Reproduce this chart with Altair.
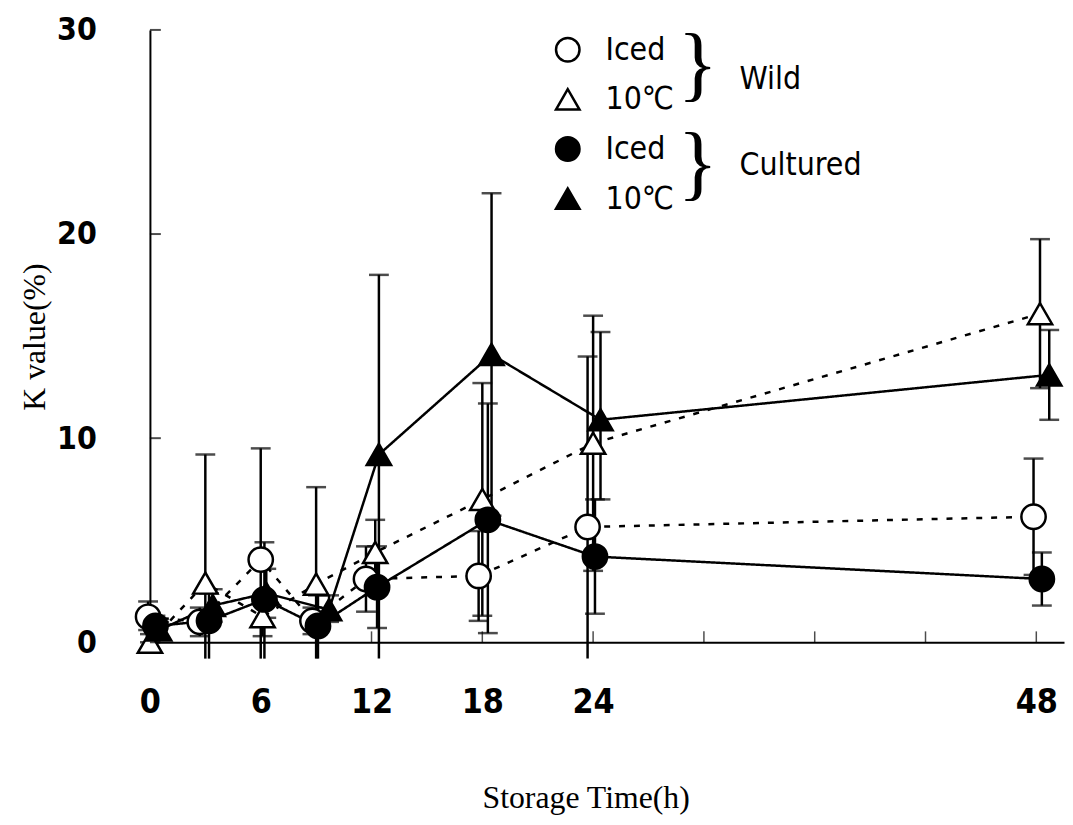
import altair as alt
import pandas as pd

# ---- data ----
series_names = ["Wild|Iced", "Wild|10℃", "Cultured|Iced", "Cultured|10℃"]
series_groups = ["Wild", "Wild", "Cultured", "Cultured"]

t_wild_iced = [-0.1, 2.7, 6.0, 8.8, 11.7, 17.8, 23.7, 47.85]
k_wild_iced = [1.25, 1.0, 4.05, 1.05, 3.1, 3.25, 5.65, 6.15]
lo_wild_iced = [0.6, 0.3, -0.8, 0.4, 1.5, 1.05, -0.8, 3.3]
hi_wild_iced = [2.0, 1.7, 9.5, 1.7, 4.7, 5.45, 14.0, 9.0]

t_wild_10 = [0.0, 3.0, 6.1, 9.0, 12.2, 18.0, 24.0, 48.2]
k_wild_10 = [0.0, 2.9, 1.25, 2.85, 4.4, 7.0, 9.75, 16.1]
lo_wild_10 = [0.0, -0.8, 0.3, -0.8, 2.8, 1.3, 3.5, 12.45]
hi_wild_10 = [0.4, 9.2, 2.2, 7.6, 6.0, 12.7, 16.0, 19.75]

t_cult_iced = [0.3, 3.2, 6.2, 9.1, 12.3, 18.3, 24.1, 48.3]
k_cult_iced = [0.8, 1.05, 2.1, 0.8, 2.7, 6.0, 4.2, 3.1]
lo_cult_iced = [0.3, -0.8, -0.8, -0.8, 0.7, 0.45, 1.4, 1.8]
hi_cult_iced = [1.3, 2.4, 4.9, 2.3, 4.7, 11.7, 7.0, 4.4]

t_cult_10 = [0.5, 3.4, 6.3, 9.7, 12.4, 18.5, 24.4, 48.7]
k_cult_10 = [0.6, 1.8, 2.4, 1.6, 9.2, 14.1, 10.9, 13.1]
lo_cult_10 = [0.2, 1.0, 1.2, 1.0, -0.8, 6.2, 7.0, 10.9]
hi_cult_10 = [1.0, 2.6, 3.6, 2.3, 18.0, 22.0, 15.2, 15.3]

x_label_values = [0, 6, 12, 18, 24, 48]
x_tick_values = [6, 12, 18, 24, 30, 36, 42, 48]
y_tick_values = [0, 10, 20, 30]
group_labels = ["Wild", "Cultured"]

# ---- build table ----
rows = []
for name, grp, ts, ks, los, his in [
    (series_names[0], series_groups[0], t_wild_iced, k_wild_iced, lo_wild_iced, hi_wild_iced),
    (series_names[1], series_groups[1], t_wild_10, k_wild_10, lo_wild_10, hi_wild_10),
    (series_names[2], series_groups[2], t_cult_iced, k_cult_iced, lo_cult_iced, hi_cult_iced),
    (series_names[3], series_groups[3], t_cult_10, k_cult_10, lo_cult_10, hi_cult_10),
]:
    for t, k, lo, hi in zip(ts, ks, los, his):
        rows.append(dict(series=name, group=grp, t=t, k=k, lo=lo, hi=hi))
df = pd.DataFrame(rows)

NUM_FONT = "Liberation Sans Narrow, DejaVu Sans Condensed, Arial Narrow, Liberation Sans, sans-serif"
SERIF = "Liberation Serif"

x_scale = alt.Scale(domain=[0, 49.5], nice=False, zero=False)
y_scale = alt.Scale(domain=[0, 30], nice=False, zero=False)

x_axis = alt.Axis(
    values=x_label_values, ticks=False, grid=False, domainColor="black", domainWidth=2,
    labelFont=NUM_FONT, labelFontSize=34, labelFontWeight="bold", labelColor="black",
    labelPadding=44, labelFlush=False,
    title="Storage Time(h)", titleFont=SERIF, titleFontSize=32, titleFontWeight="normal",
    titleColor="black", titleX=439, titleY=156, titleAlign="center", titleBaseline="middle",
)
y_axis = alt.Axis(
    values=y_tick_values, ticks=False, grid=False, domainColor="black", domainWidth=2,
    labelFont=NUM_FONT, labelFontSize=32, labelFontWeight="bold", labelColor="black",
    labelPadding=54,
    title="K value(%)", titleFont=SERIF, titleFontSize=32, titleFontWeight="normal",
    titleColor="black", titleX=-116, titleY=309, titleAngle=-90, titleAlign="center",
    titleBaseline="middle",
)

base = alt.Chart(df)

lines = base.mark_line(strokeWidth=2.5, color="black", clip=False).encode(
    x=alt.X("t:Q", scale=x_scale, axis=x_axis),
    y=alt.Y("k:Q", scale=y_scale, axis=y_axis),
    detail="series:N",
    strokeDash=alt.StrokeDash(
        "group:N",
        scale=alt.Scale(domain=["Wild", "Cultured"], range=[[6, 9], [1, 0]]),
        legend=None,
    ),
    order="t:Q",
)

err = base.mark_rule(strokeWidth=2.5, color="black", clip=False).encode(
    x="t:Q", y="lo:Q", y2="hi:Q"
)
cap_hi = base.mark_tick(orient="horizontal", size=20, thickness=2.5, color="black").encode(
    x="t:Q", y="hi:Q"
)
cap_lo = base.transform_filter("datum.lo >= 0").mark_tick(
    orient="horizontal", size=20, thickness=2.5, color="black"
).encode(x="t:Q", y="lo:Q")

legend = alt.Legend(
    title=None, orient="none", legendX=405, legendY=4, padding=0,
    labelExpr="split(datum.label, '|')[1]",
    labelFont=NUM_FONT, labelFontSize=32, labelColor="black", labelOffset=22,
    symbolSize=560, symbolStrokeWidth=2.5,
    rowPadding=17,
)

points = base.mark_point(filled=True, size=600, strokeWidth=2.5, opacity=1).encode(
    x="t:Q",
    y="k:Q",
    shape=alt.Shape(
        "series:N",
        scale=alt.Scale(domain=series_names, range=["circle", "triangle-up", "circle", "triangle-up"]),
        legend=legend,
        sort=series_names,
    ),
    fill=alt.Fill(
        "series:N",
        scale=alt.Scale(domain=series_names, range=["white", "white", "black", "black"]),
        legend=legend,
        sort=series_names,
    ),
    stroke=alt.Stroke(
        "series:N",
        scale=alt.Scale(domain=series_names, range=["black", "black", "black", "black"]),
        legend=legend,
        sort=series_names,
    ),
)

# inward axis ticks
ytick_df = pd.DataFrame({"yv": y_tick_values, "x0": [0] * len(y_tick_values)})
yticks = alt.Chart(ytick_df).mark_tick(
    orient="horizontal", size=11, thickness=2, color="black", xOffset=5.5
).encode(x="x0:Q", y="yv:Q")
xtick_df = pd.DataFrame({"xv": x_tick_values, "y0": [0] * len(x_tick_values)})
xticks = alt.Chart(xtick_df).mark_tick(
    orient="vertical", size=11, thickness=1.5, color="black", yOffset=-5.5
).encode(x="xv:Q", y="y0:Q")

# braces and group labels of the legend
one = pd.DataFrame({"a": [0]})
brace1 = alt.Chart(one).mark_text(
    text="}", font=SERIF, fontSize=84, color="black", align="center", baseline="middle"
).encode(x=alt.value(552), y=alt.value(37))
brace2 = alt.Chart(one).mark_text(
    text="}", font=SERIF, fontSize=84, color="black", align="center", baseline="middle"
).encode(x=alt.value(552), y=alt.value(136))
wild_txt = alt.Chart(one).mark_text(
    text=group_labels[0], font=NUM_FONT, fontSize=32, color="black", align="left", baseline="middle"
).encode(x=alt.value(594), y=alt.value(50))
cult_txt = alt.Chart(one).mark_text(
    text=group_labels[1], font=NUM_FONT, fontSize=32, color="black", align="left", baseline="middle"
).encode(x=alt.value(594), y=alt.value(136))

chart = alt.layer(
    lines, err, cap_hi, cap_lo, points, yticks, xticks, brace1, brace2, wild_txt, cult_txt
).properties(
    width=921, height=617,
    autosize=alt.AutoSizeParams(type="none"),
    padding={"left": 143, "top": 19, "right": 1, "bottom": 181},
    background="white",
).configure_view(stroke=None)

chart.save("out.html", embed_options={"renderer": "svg", "actions": False})
